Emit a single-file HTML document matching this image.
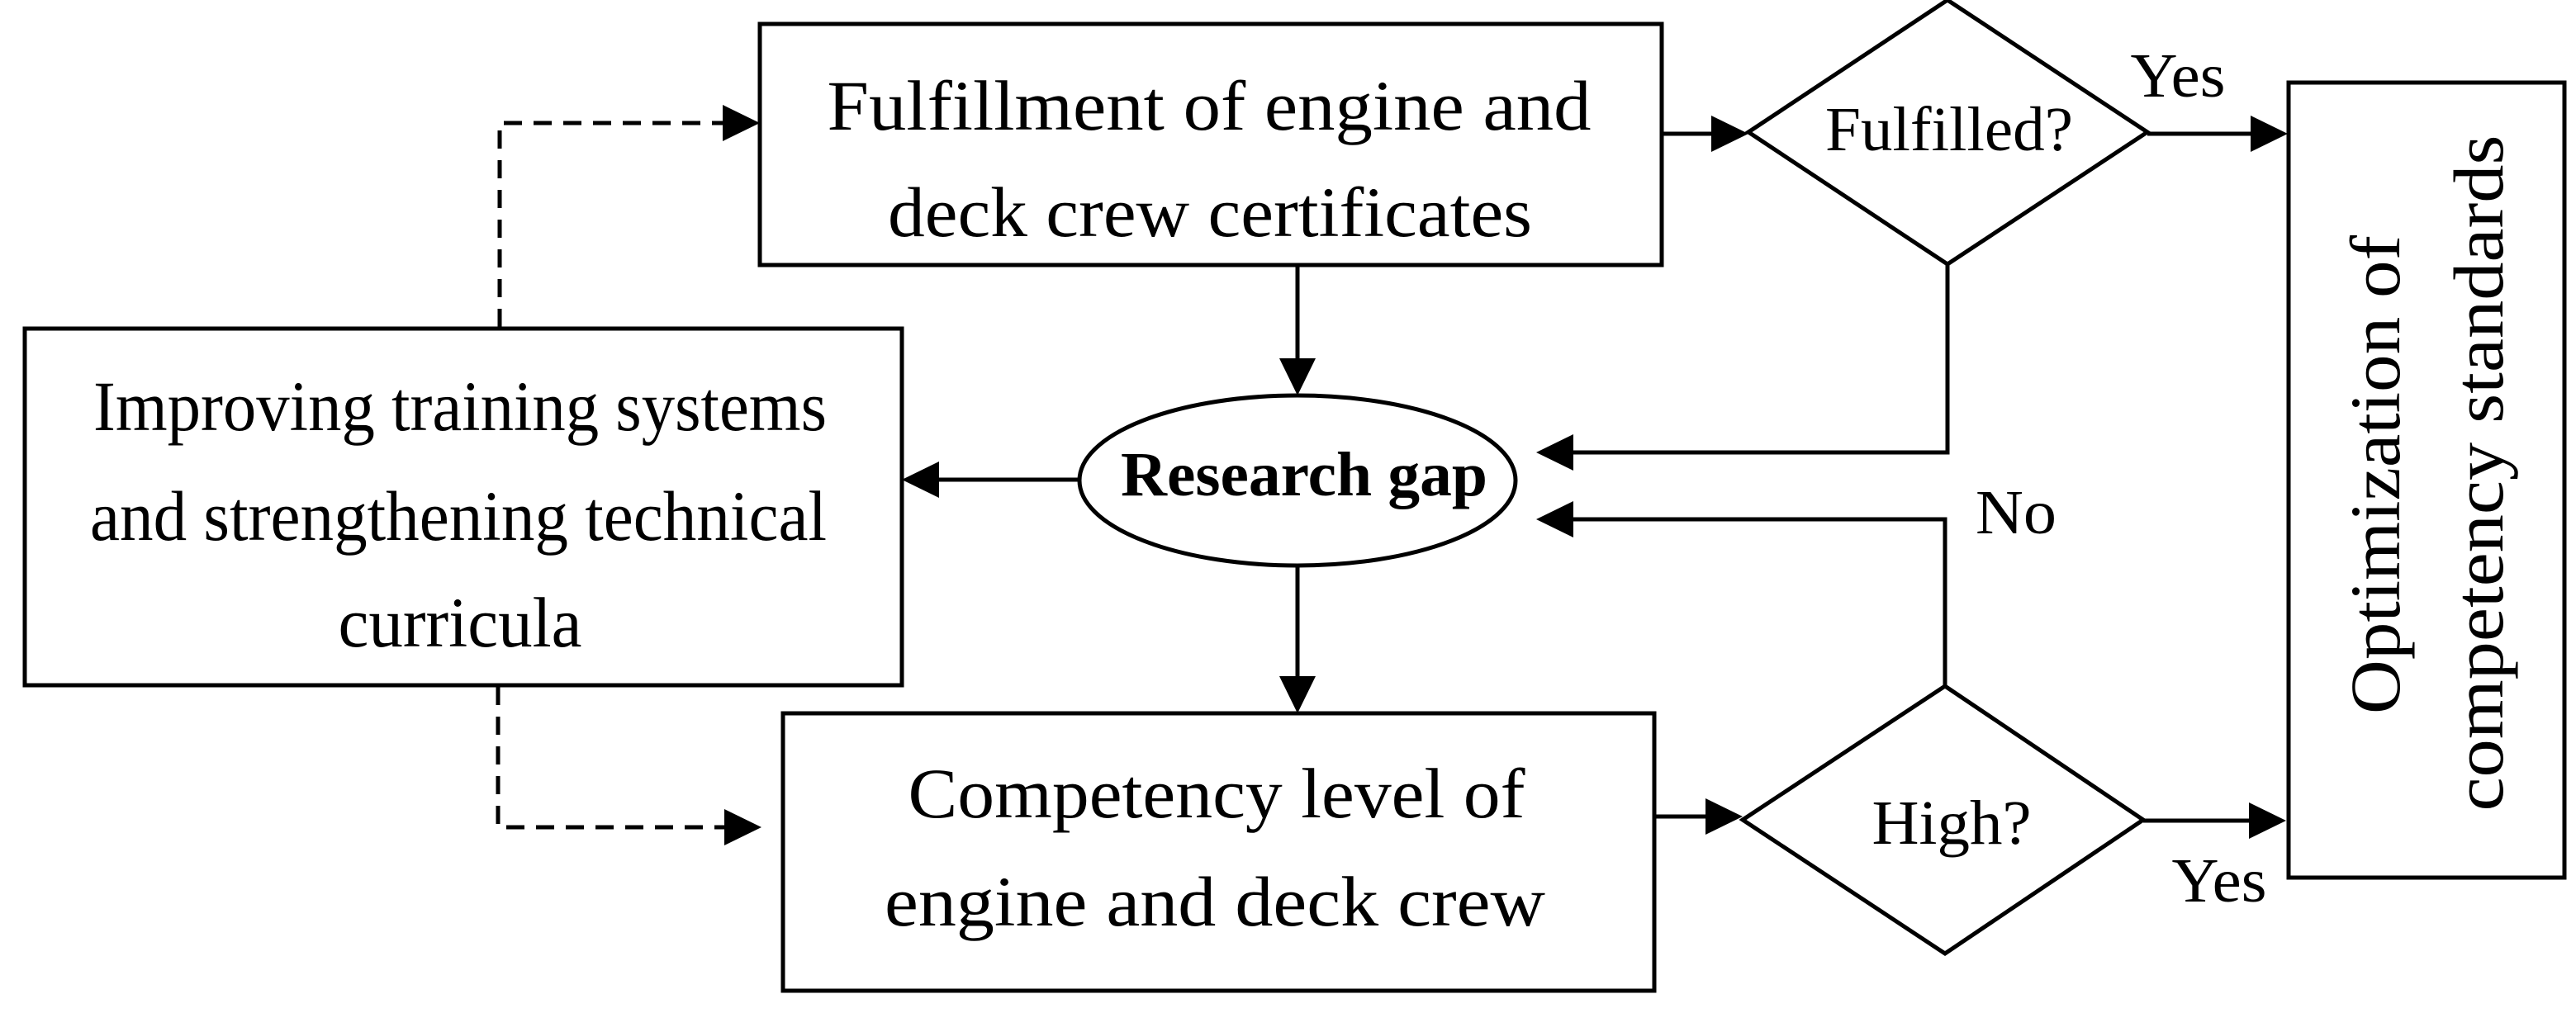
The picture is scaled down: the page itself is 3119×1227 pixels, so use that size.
<!DOCTYPE html>
<html><head><meta charset="utf-8"><style>
html,body{margin:0;padding:0;background:#fff;}
svg{display:block;}
text{font-family:"Liberation Serif",serif;fill:#000;}
</style></head><body>
<svg width="3119" height="1227" viewBox="0 0 3119 1227" xmlns="http://www.w3.org/2000/svg">
<defs>
<marker id="a" markerWidth="12" markerHeight="12" refX="11" refY="6" orient="auto" markerUnits="userSpaceOnUse" viewBox="0 0 12 12">
</marker>
</defs>
<g stroke="#000" stroke-width="5" fill="#fff">
<rect x="920" y="29" width="1092" height="292"/>
<rect x="30" y="398" width="1062" height="432"/>
<rect x="948" y="864" width="1055" height="336"/>
<rect x="2771" y="100" width="334" height="963"/>
<ellipse cx="1571" cy="582" rx="264" ry="103"/>
<polygon points="2117,160 2358,0 2600,160 2358,320"/>
<polygon points="2110,993 2355,831 2595,993 2355,1155"/>
</g>
<g stroke="#000" stroke-width="5" fill="none">
<line x1="2012" y1="162" x2="2075" y2="162"/>
<line x1="2600" y1="162" x2="2725" y2="162"/>
<polyline points="2358,320 2358,548 1905,548"/>
<polyline points="2355,831 2355,629 1905,629"/>
<line x1="2003" y1="989" x2="2068" y2="989"/>
<line x1="2595" y1="994" x2="2725" y2="994"/>
<line x1="1571" y1="321" x2="1571" y2="437"/>
<line x1="1571" y1="685" x2="1571" y2="822"/>
<line x1="1307" y1="581" x2="1137" y2="581"/>
<polyline points="605,396 605,149 878,149" stroke-dasharray="22,14"/>
<polyline points="603,832 603,1002 878,1002" stroke-dasharray="22,14"/>
</g>
<g fill="#000">
<polygon points="2117,162 2072,140 2072,184"/>
<polygon points="2770,162 2725,140 2725,184"/>
<polygon points="1860,548 1905,526 1905,570"/>
<polygon points="1860,629 1905,607 1905,651"/>
<polygon points="2110,989 2065,967 2065,1011"/>
<polygon points="2768,994 2723,972 2723,1016"/>
<polygon points="1571,479 1549,434 1593,434"/>
<polygon points="1571,864 1549,819 1593,819"/>
<polygon points="1092,581 1137,559 1137,603"/>
<polygon points="920,149 875,127 875,171"/>
<polygon points="922,1002 877,980 877,1024"/>
</g>
<g font-size="86" text-anchor="middle">
<text x="1464" y="157" textLength="925" lengthAdjust="spacingAndGlyphs">Fulfillment of engine and</text>
<text x="1465" y="286" textLength="780" lengthAdjust="spacingAndGlyphs">deck crew certificates</text>
<text x="557" y="521" textLength="888" lengthAdjust="spacingAndGlyphs">Improving training systems</text>
<text x="555" y="654" textLength="892" lengthAdjust="spacingAndGlyphs">and strengthening technical</text>
<text x="557" y="783" textLength="295" lengthAdjust="spacingAndGlyphs">curricula</text>
<text x="1473" y="990" textLength="747" lengthAdjust="spacingAndGlyphs">Competency level of</text>
<text x="1471" y="1121" textLength="800" lengthAdjust="spacingAndGlyphs">engine and deck crew</text>
</g>
<text x="1579" y="600" font-size="76" font-weight="bold" text-anchor="middle" textLength="444" lengthAdjust="spacingAndGlyphs">Research gap</text>
<g font-size="76" text-anchor="middle">
<text x="2360" y="182" textLength="300" lengthAdjust="spacingAndGlyphs">Fulfilled?</text>
<text x="2363" y="1022" textLength="193" lengthAdjust="spacingAndGlyphs">High?</text>
<text x="2637" y="117" textLength="115" lengthAdjust="spacingAndGlyphs">Yes</text>
<text x="2687" y="1092" textLength="115" lengthAdjust="spacingAndGlyphs">Yes</text>
<text x="2441" y="646" textLength="98" lengthAdjust="spacingAndGlyphs">No</text>
</g>
<g font-size="86" text-anchor="middle">
<text transform="translate(2905,575) rotate(-90)" textLength="580" lengthAdjust="spacingAndGlyphs">Optimization of</text>
<text transform="translate(3030,573) rotate(-90)" textLength="819" lengthAdjust="spacingAndGlyphs">competency standards</text>
</g>
</svg>
</body></html>
